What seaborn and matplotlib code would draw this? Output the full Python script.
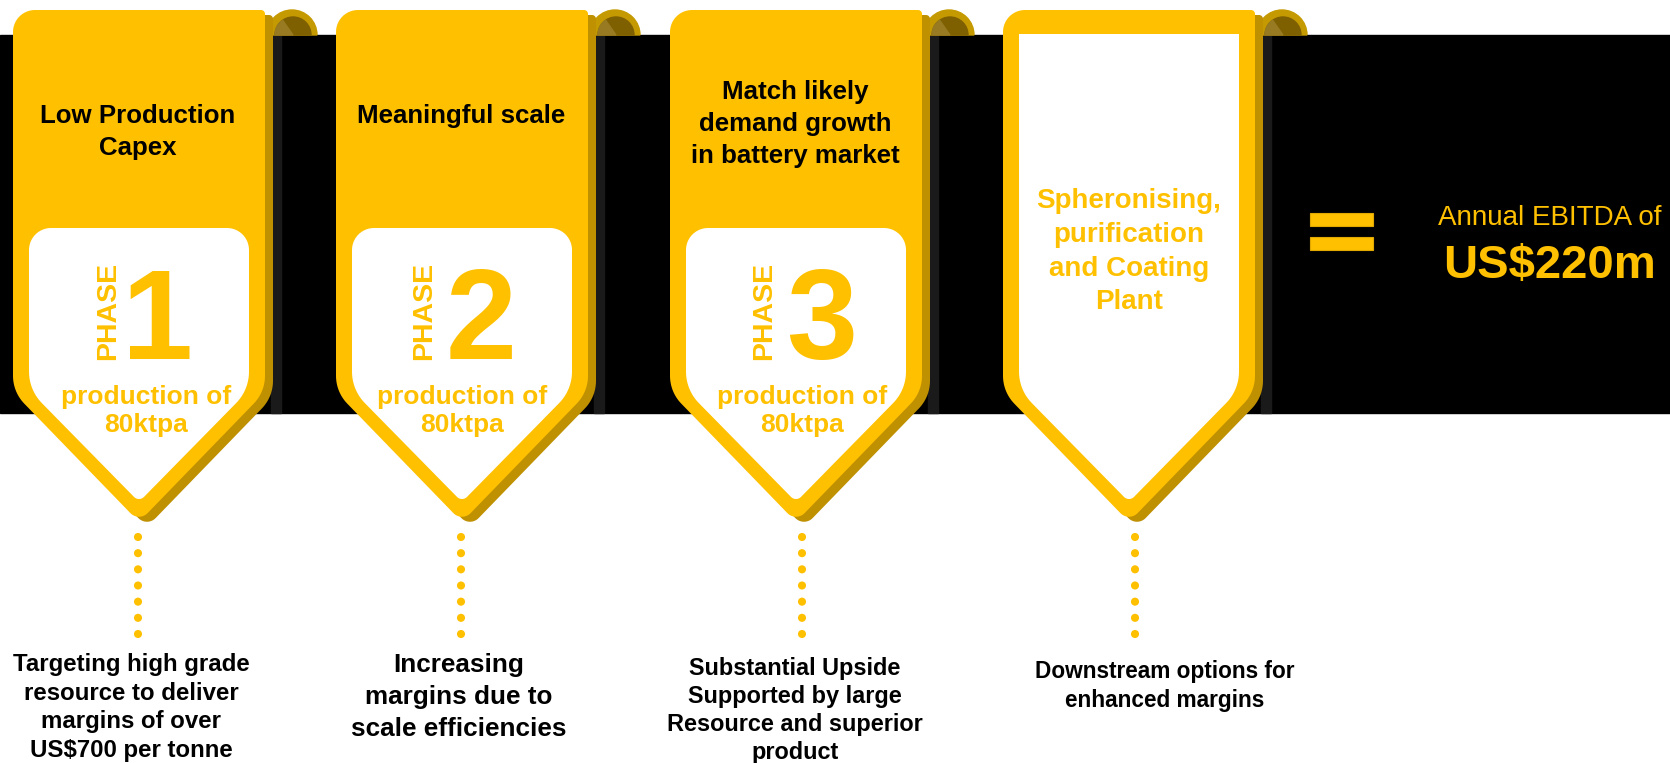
import numpy as np
import pandas as pd
import seaborn as sns
import matplotlib.pyplot as plt
from matplotlib.patches import Polygon, Rectangle, Wedge

# ---- content ----
titles = ["Low Production\nCapex", "Meaningful scale", "Match likely\ndemand growth\nin battery market"]
title_baselines = [122.7, 122.7, 99.5]
phase_words = ["PHASE", "PHASE", "PHASE"]
phase_nums = ["1", "2", "3"]
production = ["production of\n80ktpa", "production of\n80ktpa", "production of\n80ktpa"]
plant_text = "Spheronising,\npurification\nand Coating\nPlant"
descriptions = [
    "Targeting high grade\nresource to deliver\nmargins of over\nUS$700 per tonne",
    "Increasing\nmargins due to\nscale efficiencies",
    "Substantial Upside\nSupported by large\nResource and superior\nproduct",
    "Downstream options for\nenhanced margins",
]
ebitda_label = "Annual EBITDA of"
ebitda_value = "US$220m"

# ---- layout (pixels) ----
ribbon_x0 = [13, 336, 670, 1003]
RW = 252
dot_x = [138, 461, 802, 1135]
dot_y = np.linspace(537, 634, 7)
desc_x = [131, 459, 795, 1165]
desc_y0 = [671, 672, 675, 678]
desc_gap = [28.7, 31.8, 28, 29]
desc_size = [17.3, 18.8, 16.9, 16.3]

YEL = "#FFC000"
SHADOW = "#BF9000"
CURL = "#C49A00"
CURL_IN = "#7F6000"
GRAY = "#1A1A1A"


def rounded(pts, radii, n=14):
    pts = [np.array(p, float) for p in pts]
    out = []
    N = len(pts)
    for i in range(N):
        p0, p1, p2 = pts[i - 1], pts[i], pts[(i + 1) % N]
        r = radii[i]
        if r == 0:
            out.append(p1)
            continue
        u1 = (p0 - p1) / np.linalg.norm(p0 - p1)
        u2 = (p2 - p1) / np.linalg.norm(p2 - p1)
        ang = np.arccos(np.clip(np.dot(u1, u2), -1, 1))
        t = r / np.tan(ang / 2)
        a, b = p1 + u1 * t, p1 + u2 * t
        bis = (u1 + u2) / np.linalg.norm(u1 + u2)
        c = p1 + bis * r / np.sin(ang / 2)
        th1 = np.arctan2(*(a - c)[::-1])
        th2 = np.arctan2(*(b - c)[::-1])
        d = (th2 - th1 + np.pi) % (2 * np.pi) - np.pi
        th = th1 + d * np.linspace(0, 1, n)
        out.extend(np.c_[c[0] + r * np.cos(th), c[1] + r * np.sin(th)])
    return np.array(out)


def outer_shape(x0):
    x1 = x0 + RW
    xc = x0 + RW / 2
    return rounded([(x0, 10), (x1, 10), (x1, 392), (xc, 522), (x0, 392)],
                   [22, 4, 40, 12, 40])


def lines(ax, x, y0, gap, text, **kw):
    for k, ln in enumerate(text.split("\n")):
        ax.text(x, y0 + k * gap, ln, ha="center", va="baseline", **kw)


sns.set_theme(style="white")
plt.rcParams["font.family"] = ["Liberation Sans", "DejaVu Sans"]

fig = plt.figure(figsize=(16.7, 7.63), dpi=100)
ax = fig.add_axes([0, 0, 1, 1])
ax.set_xlim(0, 1670)
ax.set_ylim(763, 0)
ax.axis("off")

# black band
ax.add_patch(Rectangle((0, 35), 1670, 378, color="black", zorder=1))

for i, x0 in enumerate(ribbon_x0):
    x1 = x0 + RW
    xc = x0 + RW / 2
    # gray edge strip and the curl at top right
    ax.add_patch(Rectangle((x1 + 6, 35), 10, 378, color=GRAY, zorder=2))
    ax.add_patch(Wedge((x1 + 27, 35), 25, 180, 360, color=CURL, zorder=2))
    ax.add_patch(Wedge((x1 + 28, 35), 18, 180, 360, color=CURL_IN, zorder=2))
    ax.add_patch(Wedge((x1 + 28, 35), 18, 180, 235, color="#977A22", zorder=2))
    # shadow + body
    shp = outer_shape(x0)
    ax.add_patch(Polygon(shp + np.array([8, 5]), closed=True, color=SHADOW, zorder=3, lw=0))
    ax.add_patch(Polygon(shp, closed=True, color=YEL, zorder=4, lw=0))
    # white inner panel
    if i < 3:
        inner = rounded([(x0 + 16, 228), (x1 - 16, 228), (x1 - 16, 390), (xc, 502), (x0 + 16, 390)],
                        [22, 22, 45, 7, 45])
    else:
        inner = rounded([(x0 + 16, 34), (x1 - 16, 34), (x1 - 16, 390), (xc, 502), (x0 + 16, 390)],
                        [0, 0, 45, 7, 45])
    ax.add_patch(Polygon(inner, closed=True, color="white", zorder=5, lw=0))

# texts inside ribbons 1-3
phase_dx = [-24, -31, -25]
digit_dx = [19, 19, 26]
prod_dx = [7, 0, 6]
for i in range(3):
    xc = ribbon_x0[i] + RW / 2
    lines(ax, xc - 1, title_baselines[i], 32, titles[i], fontsize=18.6,
          fontweight="bold", color="black", zorder=6)
    ax.text(xc + phase_dx[i], 311, phase_words[i], rotation=90, rotation_mode="anchor",
            ha="center", va="baseline", fontsize=20.5, fontweight="bold", color=YEL, zorder=6)
    ax.text(xc + digit_dx[i], 359, phase_nums[i], ha="center", va="baseline",
            fontsize=92, fontweight="bold", color=YEL, zorder=6)
    lines(ax, xc + prod_dx[i], 404, 28, production[i], fontsize=19,
          fontweight="bold", color=YEL, zorder=6)

lines(ax, ribbon_x0[3] + RW / 2, 208.5, 33.6, plant_text, fontsize=20,
      fontweight="bold", color=YEL, zorder=6)

# dotted connectors
dots = pd.DataFrame([(x, y) for x in dot_x for y in dot_y], columns=["x", "y"])
sns.scatterplot(data=dots, x="x", y="y", ax=ax, s=34, color=YEL, edgecolor="none",
                legend=False, zorder=6)

# descriptions under each ribbon
for i, txt in enumerate(descriptions):
    lines(ax, desc_x[i], desc_y0[i], desc_gap[i], txt, fontsize=desc_size[i],
          fontweight="bold", color="black", zorder=6)

# equals sign and result
for y in (213, 237):
    ax.add_patch(Rectangle((1310, y), 63, 13, facecolor=YEL, edgecolor="#E0A800",
                           lw=0.8, zorder=6))
ax.text(1550, 225, ebitda_label, ha="center", va="baseline", fontsize=20,
        color=YEL, zorder=6)
ax.text(1549, 278, ebitda_value, ha="center", va="baseline", fontsize=34,
        fontweight="bold", color=YEL, zorder=6)

ax.set_xlim(0, 1670)
ax.set_ylim(763, 0)
fig.savefig("out.png", dpi=100)
plt.close(fig)
